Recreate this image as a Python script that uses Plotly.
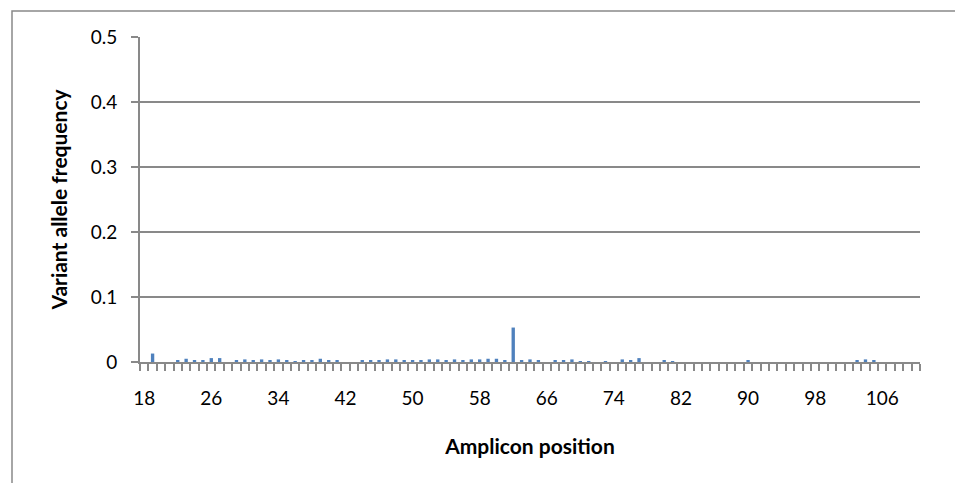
import plotly.graph_objects as go

# ---- data ----
positions = [19, 22, 23, 24, 25, 26, 27, 29, 30, 31, 32, 33, 34, 35, 36, 37, 38, 39,
             40, 41, 44, 45, 46, 47, 48, 49, 50, 51, 52, 53, 54, 55, 56, 57, 58, 59,
             60, 61, 62, 63, 64, 65, 67, 68, 69, 70, 71, 73, 75, 76, 77, 80, 81, 90,
             103, 104, 105]
vaf = [0.013, 0.002, 0.005, 0.003, 0.002, 0.006, 0.006, 0.003, 0.004, 0.002, 0.004, 0.003,
       0.004, 0.003, 0.001, 0.002, 0.002, 0.005,
       0.002, 0.002, 0.002, 0.002, 0.002, 0.004, 0.004, 0.003, 0.003, 0.002, 0.004, 0.004,
       0.002, 0.004, 0.003, 0.004, 0.004, 0.005,
       0.005, 0.002, 0.053, 0.003, 0.004, 0.002, 0.003, 0.003, 0.004, 0.001, 0.0015, 0.0015,
       0.004, 0.003, 0.006, 0.002, 0.001, 0.003,
       0.002, 0.004, 0.002]
first_pos = 18
last_pos = 110
x_tick_labels = ["18", "26", "34", "42", "50", "58", "66", "74", "82", "90", "98", "106"]
y_tick_vals = [0, 0.1, 0.2, 0.3, 0.4, 0.5]
y_tick_text = ["0", "0.1", "0.2", "0.3", "0.4", "0.5"]

GRAY = "#898989"
FONT = "Lato"

# page body has an 8px margin, so the figure is placed 8px in
OFF = 8
W, H = 963 - OFF, 483 - OFF
L, R, T, B = 140 - OFF, 963 - 920, 37 - OFF, 483 - 362
PW, PH = W - L - R, H - T - B

fig = go.Figure()
fig.add_trace(go.Bar(x=positions, y=vaf, width=0.4,
                     marker=dict(color="#4F81BD", line=dict(width=0))))

fig.update_layout(
    width=W, height=H,
    margin=dict(l=L, r=R, t=T, b=B, autoexpand=False),
    paper_bgcolor="white", plot_bgcolor="white",
    showlegend=False,
    font=dict(family=FONT, color="black", size=19),
    xaxis=dict(
        range=[first_pos - 0.5, last_pos + 0.5],
        tickvals=[int(t) for t in x_tick_labels], ticktext=x_tick_labels,
        ticks="", showgrid=False, zeroline=False,
        showline=True, linecolor=GRAY, linewidth=2,
        tickfont=dict(size=19), ticklabelstandoff=18,
        minor=dict(ticks="outside", tick0=first_pos - 0.5, dtick=1, ticklen=7,
                   tickcolor=GRAY, tickwidth=2, showgrid=False),
        title=dict(text="<b>Amplicon position</b>", font=dict(size=21), standoff=32),
    ),
    yaxis=dict(
        range=[0, 0.5], tickvals=y_tick_vals, ticktext=y_tick_text,
        ticks="outside", ticklen=7, tickcolor=GRAY, tickwidth=1.5,
        showgrid=True, gridcolor=GRAY, gridwidth=1.5,
        zeroline=False, showline=True, linecolor=GRAY, linewidth=2,
        tickfont=dict(size=19), ticklabelstandoff=10,
        title=dict(text="<b>Variant allele frequency</b>", font=dict(size=21), standoff=17),
    ),
    shapes=[dict(type="rect", xref="paper", yref="paper",
                 x0=(12 - 140) / PW, x1=(956 - 140) / PW,
                 y0=(362 - 500) / PH, y1=(362 - 11) / PH,
                 line=dict(color=GRAY, width=1.5), fillcolor="rgba(0,0,0,0)", layer="below")],
)

fig.write_html("out.html")
